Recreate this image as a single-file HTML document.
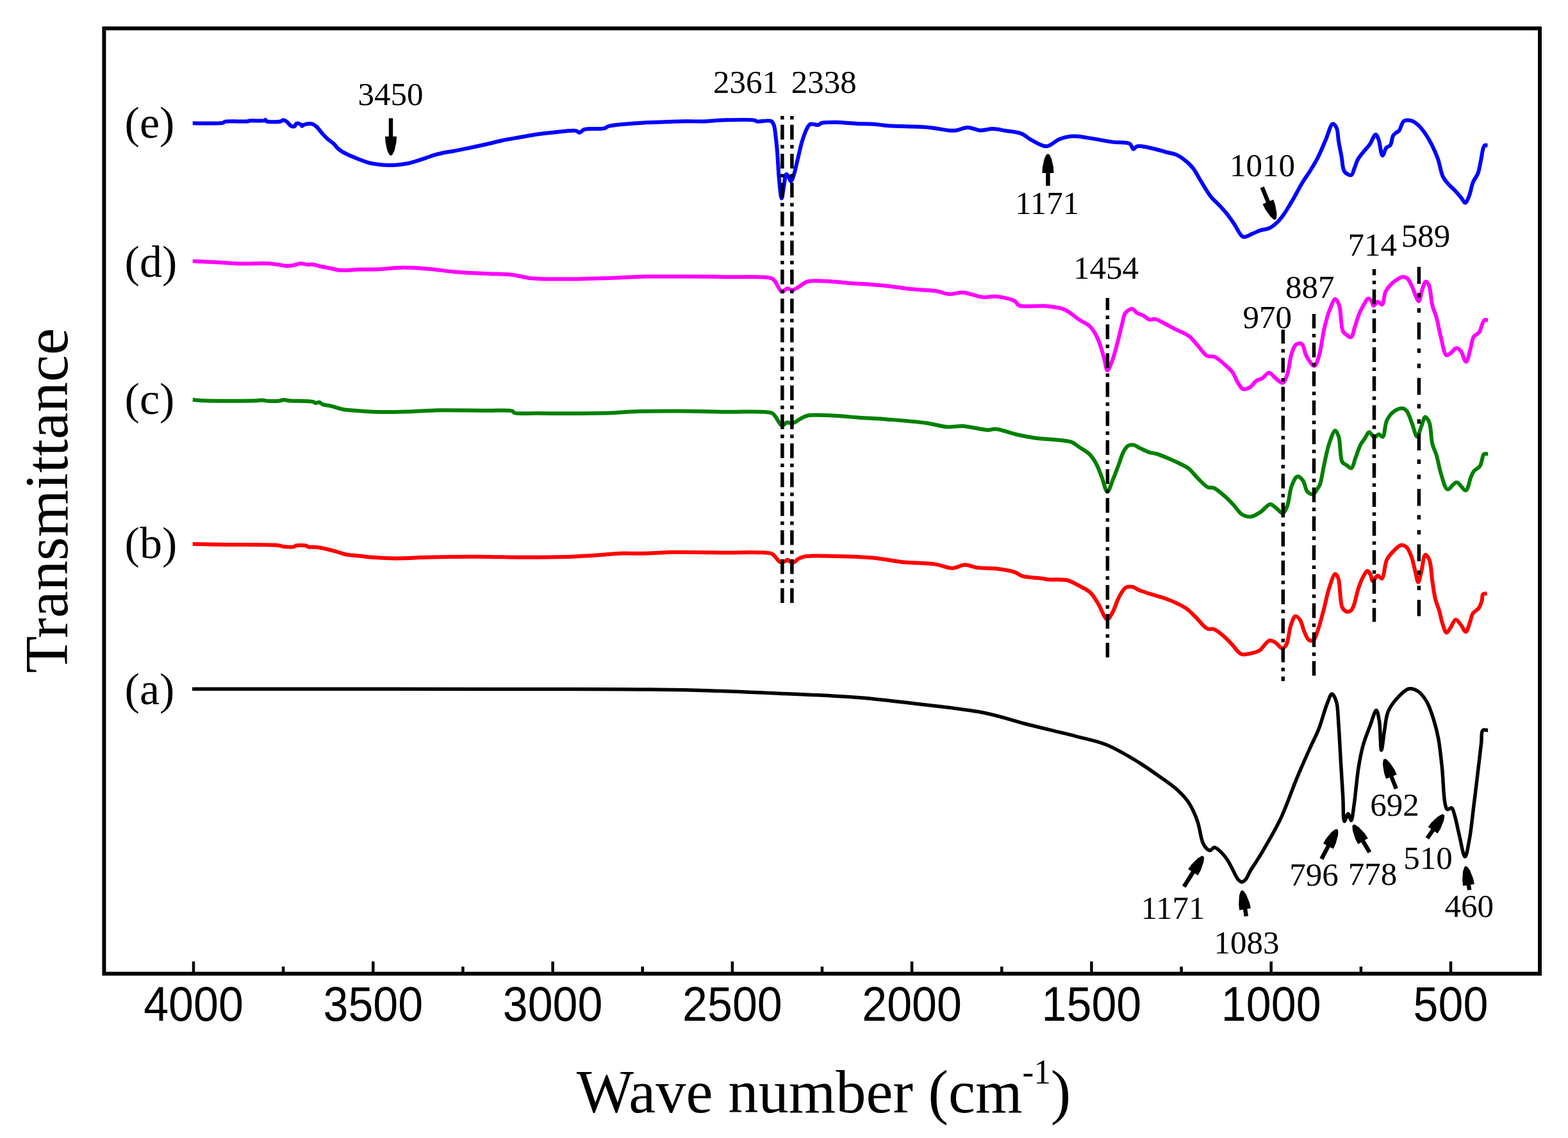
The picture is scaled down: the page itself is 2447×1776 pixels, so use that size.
<!DOCTYPE html>
<html><head><meta charset="utf-8"><title>FTIR spectra</title>
<style>
html,body{margin:0;padding:0;background:#fff;}
body{width:2447px;height:1776px;overflow:hidden;}
svg{display:block;}
</style></head>
<body>
<svg width="2447" height="1776" viewBox="0 0 2447 1776">
<rect x="0" y="0" width="2447" height="1776" fill="#fff"/>
<g fill="none" stroke-linejoin="round" stroke-linecap="butt" stroke-width="6">
<path stroke="#0000ff" d="M300.7,192.3 C308.6,192.2 342.1,193.4 348.2,191.6 C349.8,191.1 349.4,190.3 351.0,189.9 C356.2,188.4 382.5,190.2 387.0,189.3 C388.1,189.1 387.9,188.7 389.0,188.5 C392.6,187.8 410.1,189.2 413.0,188.0 C413.8,187.7 413.8,186.8 414.2,186.8 C414.8,186.8 414.8,188.6 416.0,189.2 C419.2,190.8 434.3,190.6 438.4,189.4 C440.1,188.9 440.5,187.3 441.8,187.2 C443.3,187.1 445.3,188.4 447.1,189.6 C449.6,191.3 452.4,196.0 454.9,197.0 C456.6,197.7 458.4,197.7 459.7,197.0 C461.0,196.3 461.2,193.4 462.6,192.8 C464.3,192.1 467.9,193.3 469.4,194.2 C470.4,194.8 470.6,196.7 471.4,196.8 C472.2,196.9 472.9,195.2 474.3,194.7 C476.9,193.7 483.4,192.5 486.9,193.3 C489.6,193.9 491.7,195.7 493.7,197.4 C495.7,199.1 497.3,201.5 499.0,203.5 C500.8,205.6 502.2,207.6 504.2,209.7 C506.5,212.2 509.2,215.1 512.0,217.5 C514.7,219.9 518.2,221.8 520.7,224.2 C523.0,226.4 524.4,228.9 526.6,231.0 C528.9,233.2 531.3,235.0 534.3,236.9 C538.1,239.3 543.3,241.5 547.9,243.6 C552.6,245.7 557.5,247.7 562.4,249.5 C567.2,251.3 572.1,253.1 577.0,254.3 C581.8,255.5 586.6,256.1 591.5,256.7 C596.3,257.3 601.2,257.6 606.1,257.7 C610.9,257.8 615.8,257.6 620.6,257.2 C625.5,256.8 630.4,256.3 635.2,255.3 C640.1,254.3 644.9,252.8 649.7,251.4 C654.6,249.9 659.4,248.2 664.3,246.6 C669.1,245.0 674.1,243.1 678.8,241.7 C683.3,240.4 687.5,239.4 692.0,238.5 C696.7,237.5 701.0,237.0 706.5,236.0 C714.0,234.6 724.1,232.5 732.9,230.7 C741.7,228.9 750.6,227.0 759.4,225.0 C768.2,223.0 777.0,220.6 785.8,218.8 C794.6,217.0 803.5,215.6 812.3,214.0 C821.1,212.5 829.9,210.8 838.7,209.5 C847.5,208.3 855.8,207.4 865.2,206.5 C875.7,205.5 892.5,202.8 898.9,204.1 C901.6,204.7 902.4,207.0 904.4,206.9 C906.8,206.8 908.5,203.1 912.1,201.9 C918.8,199.7 936.6,202.0 943.0,200.3 C946.1,199.5 946.4,198.0 949.6,197.0 C957.2,194.8 976.4,193.6 989.3,192.6 C1001.4,191.6 1012.2,191.3 1024.6,190.8 C1038.5,190.2 1055.2,189.5 1068.6,189.3 C1079.9,189.1 1089.8,189.7 1100.0,189.4 C1109.6,189.1 1117.2,187.8 1127.9,187.5 C1142.2,187.1 1171.9,186.0 1178.2,187.8 C1179.8,188.3 1179.5,189.1 1181.0,189.5 C1184.8,190.5 1199.1,186.8 1203.4,189.0 C1205.8,190.2 1206.5,192.3 1207.6,195.0 C1209.3,199.1 1209.6,205.5 1210.4,211.8 C1211.5,219.9 1212.3,229.4 1213.2,239.7 C1214.2,252.2 1214.7,269.1 1216.0,281.6 C1217.0,291.9 1218.5,309.5 1219.8,309.5 C1220.8,309.5 1221.9,298.7 1223.0,292.8 C1224.3,286.2 1225.1,272.4 1227.1,271.8 C1228.0,271.5 1229.1,273.2 1230.0,274.5 C1231.4,276.5 1232.7,283.0 1234.1,283.0 C1235.5,283.0 1236.9,278.3 1238.3,274.6 C1240.7,268.1 1243.0,256.0 1245.3,246.7 C1247.6,237.4 1249.5,227.3 1252.3,218.7 C1254.8,211.1 1258.0,202.0 1260.7,197.8 C1262.1,195.7 1262.8,194.3 1264.8,193.6 C1267.7,192.6 1274.4,195.7 1277.4,195.0 C1279.3,194.5 1279.5,192.9 1281.6,192.2 C1285.8,190.8 1294.7,190.8 1302.6,190.8 C1312.8,190.8 1326.6,192.4 1337.5,192.9 C1347.0,193.3 1355.8,193.1 1364.3,193.7 C1372.0,194.3 1377.0,195.6 1386.3,196.3 C1402.0,197.5 1432.8,197.2 1450.2,198.9 C1462.4,200.1 1473.4,203.0 1481.1,203.6 C1485.7,203.9 1488.0,204.1 1492.1,203.6 C1497.3,202.9 1503.7,199.0 1509.8,198.9 C1516.2,198.8 1523.0,203.0 1529.6,203.4 C1536.2,203.8 1542.8,201.0 1549.4,201.1 C1556.0,201.2 1562.4,202.9 1569.3,204.0 C1577.0,205.3 1586.3,205.6 1593.5,208.4 C1600.1,211.0 1604.8,216.2 1611.2,219.4 C1618.0,222.9 1626.2,228.7 1633.2,228.3 C1640.1,227.9 1646.5,219.8 1653.1,217.2 C1659.0,214.9 1665.5,213.4 1670.7,212.8 C1674.8,212.3 1677.4,212.5 1681.7,212.8 C1687.8,213.3 1695.7,214.8 1703.8,216.1 C1713.7,217.7 1726.4,220.2 1736.8,221.6 C1746.1,222.9 1758.1,221.3 1763.3,224.5 C1766.5,226.4 1766.8,232.4 1768.8,232.7 C1770.5,233.0 1771.5,229.0 1774.3,228.3 C1780.0,226.8 1794.7,230.9 1803.0,232.7 C1809.5,234.1 1814.5,236.0 1820.0,237.5 C1825.2,238.9 1830.3,239.2 1835.2,241.3 C1840.5,243.6 1845.8,247.4 1850.4,251.1 C1854.9,254.7 1859.0,258.8 1862.5,263.3 C1866.1,267.9 1868.6,273.4 1871.6,278.5 C1874.7,283.6 1877.7,288.8 1880.8,293.7 C1883.8,298.4 1886.4,303.0 1889.9,307.3 C1893.5,311.7 1898.0,315.3 1902.0,319.5 C1906.1,323.9 1910.3,328.3 1914.2,333.2 C1918.4,338.4 1922.2,344.1 1926.3,349.9 C1930.8,356.2 1934.7,367.8 1940.0,369.6 C1944.1,371.0 1949.3,366.8 1953.7,365.1 C1957.9,363.5 1961.5,361.3 1965.8,359.8 C1970.5,358.2 1976.5,358.1 1981.0,356.0 C1985.1,354.1 1988.3,351.5 1991.7,348.4 C1995.5,345.0 1998.7,341.1 2002.3,336.2 C2007.2,329.6 2012.5,320.3 2017.5,311.9 C2022.7,303.1 2027.8,292.7 2032.7,284.6 C2036.8,277.8 2040.9,272.7 2044.8,266.3 C2049.0,259.6 2053.1,252.7 2057.0,245.1 C2061.3,236.7 2065.2,226.6 2069.1,217.7 C2072.8,209.4 2076.3,194.0 2079.8,193.4 C2081.8,193.0 2084.3,196.5 2085.8,199.5 C2088.2,204.2 2087.8,213.5 2089.1,220.8 C2090.4,228.6 2092.2,237.1 2093.7,245.1 C2095.2,252.8 2094.7,263.3 2098.2,267.9 C2100.7,271.2 2106.4,274.1 2108.9,273.2 C2111.3,272.3 2111.8,267.0 2113.4,263.3 C2115.3,258.8 2116.9,252.7 2119.5,248.1 C2122.0,243.7 2125.5,239.9 2128.6,236.0 C2131.6,232.3 2134.8,229.3 2137.7,225.3 C2140.9,220.8 2144.3,210.1 2146.8,210.1 C2148.6,210.1 2150.0,214.3 2151.4,217.7 C2153.8,223.5 2155.0,242.5 2157.5,242.8 C2159.3,243.0 2161.0,233.3 2163.5,230.6 C2165.3,228.6 2168.0,228.9 2169.6,226.8 C2172.0,223.6 2172.2,215.0 2174.2,211.6 C2175.5,209.4 2177.1,208.4 2178.7,207.1 C2180.2,205.9 2181.8,205.8 2183.3,204.1 C2185.9,201.1 2187.3,191.3 2190.9,188.9 C2193.8,187.0 2198.1,187.3 2201.5,188.1 C2205.2,188.9 2208.8,191.3 2212.2,194.2 C2216.4,197.7 2220.6,203.3 2224.3,208.6 C2228.2,214.2 2231.7,220.4 2234.9,226.8 C2238.3,233.5 2241.3,240.5 2244.0,248.1 C2247.0,256.6 2248.5,268.7 2251.7,275.5 C2253.9,280.1 2256.2,282.6 2259.2,286.1 C2262.6,290.2 2267.7,294.2 2271.4,298.2 C2274.7,301.8 2277.8,305.6 2280.5,308.9 C2282.8,311.6 2284.7,316.7 2286.6,316.5 C2288.8,316.3 2290.9,310.1 2292.7,305.8 C2295.1,300.0 2296.2,290.8 2298.7,284.6 C2300.8,279.4 2304.3,276.0 2306.3,270.9 C2308.6,265.0 2309.5,257.7 2310.9,251.1 C2312.3,244.5 2313.3,235.6 2314.7,231.4 C2315.4,229.3 2315.8,227.5 2317.0,226.8 C2318.1,226.1 2320.8,226.8 2321.5,226.8"/>
<path stroke="#ff00ff" d="M300.7,407.5 C306.8,407.8 324.9,408.7 337.6,409.3 C351.1,410.0 365.9,411.2 379.3,411.5 C391.7,411.7 405.1,410.6 415.0,411.0 C422.0,411.3 427.2,412.1 432.9,412.8 C438.2,413.4 443.6,414.9 448.3,415.0 C452.2,415.1 455.6,414.4 459.0,413.8 C462.3,413.2 465.2,411.5 468.6,411.3 C472.3,411.1 477.0,412.9 480.5,413.0 C483.2,413.1 485.0,412.2 487.6,412.4 C490.8,412.7 494.3,414.3 498.3,415.2 C503.5,416.4 510.8,417.7 516.2,418.8 C520.6,419.7 524.1,421.0 528.1,421.5 C532.0,422.0 535.5,421.9 540.0,421.8 C545.8,421.7 552.7,420.9 560.0,420.6 C569.0,420.3 579.3,420.7 590.0,420.3 C602.3,419.8 616.5,417.7 629.7,417.6 C642.9,417.5 656.2,418.6 669.4,419.7 C682.6,420.8 695.0,423.0 709.1,424.2 C725.0,425.6 744.1,426.3 760.0,427.1 C774.1,427.8 787.5,427.5 799.7,428.9 C810.2,430.1 817.7,433.0 828.8,434.2 C843.2,435.7 861.1,435.5 879.0,435.6 C899.5,435.7 923.4,434.9 945.2,434.2 C966.6,433.5 987.1,432.0 1008.7,431.6 C1031.2,431.1 1055.8,431.5 1077.5,431.6 C1097.0,431.7 1113.3,431.8 1133.0,432.2 C1155.3,432.7 1194.4,430.4 1204.4,434.5 C1207.6,435.8 1207.8,437.2 1209.7,439.5 C1212.8,443.2 1216.6,454.7 1220.3,455.4 C1222.9,455.9 1225.6,450.5 1228.3,450.1 C1230.9,449.8 1233.4,453.0 1236.2,452.8 C1239.5,452.6 1243.1,449.5 1246.8,447.5 C1251.0,445.2 1254.5,441.1 1260.0,439.5 C1267.6,437.3 1278.7,438.4 1289.1,438.7 C1301.3,439.1 1319.6,441.6 1328.8,442.2 C1333.7,442.5 1335.1,442.4 1340.0,442.7 C1349.6,443.3 1368.5,444.5 1382.3,445.9 C1395.5,447.3 1407.9,449.7 1421.1,451.1 C1434.9,452.6 1452.5,452.9 1463.5,454.7 C1470.7,455.9 1474.9,458.7 1481.1,459.1 C1487.8,459.5 1494.6,456.0 1502.3,456.4 C1511.8,456.9 1524.7,463.0 1534.0,463.8 C1541.2,464.4 1546.3,462.0 1553.4,462.6 C1562.4,463.4 1577.2,466.2 1583.4,469.7 C1586.9,471.7 1586.6,475.1 1590.4,476.7 C1598.0,480.0 1618.5,476.4 1631.0,477.6 C1641.8,478.7 1652.0,479.2 1661.0,482.9 C1669.6,486.4 1676.9,494.2 1683.9,498.8 C1689.7,502.5 1695.7,504.7 1700.0,508.5 C1703.8,511.8 1706.2,515.6 1708.8,519.9 C1711.6,524.6 1713.7,529.9 1715.9,535.8 C1718.5,542.7 1720.8,551.4 1722.9,558.7 C1724.8,565.4 1726.0,577.9 1728.2,578.1 C1730.2,578.3 1733.1,569.7 1735.3,564.0 C1738.5,556.0 1741.4,543.9 1744.1,534.0 C1746.7,524.5 1748.8,514.1 1751.1,505.8 C1752.9,499.2 1753.2,492.2 1756.4,488.2 C1759.0,484.9 1763.9,481.7 1767.0,482.0 C1769.7,482.3 1771.3,486.5 1774.1,488.2 C1777.1,490.1 1781.4,490.8 1784.7,492.6 C1787.9,494.3 1790.4,498.0 1793.5,498.8 C1796.3,499.5 1799.2,497.4 1802.3,497.9 C1806.1,498.5 1810.2,501.0 1814.6,503.2 C1820.0,505.8 1826.0,509.6 1832.3,512.9 C1839.4,516.6 1848.8,519.6 1855.2,524.3 C1860.9,528.5 1864.6,534.2 1869.3,539.3 C1874.0,544.5 1878.3,552.5 1883.4,555.2 C1887.3,557.3 1891.7,555.2 1895.8,557.0 C1901.0,559.2 1906.8,565.0 1911.6,569.3 C1916.1,573.3 1920.7,577.1 1924.0,581.7 C1927.1,586.0 1928.3,591.5 1931.0,595.8 C1933.6,599.9 1936.4,606.0 1939.9,607.2 C1943.0,608.3 1947.1,606.4 1950.4,604.6 C1954.3,602.4 1957.4,596.4 1961.0,594.0 C1963.9,592.1 1966.9,592.2 1969.8,590.5 C1973.3,588.4 1976.9,581.7 1980.4,581.7 C1983.9,581.7 1987.4,587.8 1991.0,590.5 C1994.5,593.1 1998.7,598.2 2001.6,597.5 C2004.7,596.8 2006.6,590.5 2008.6,585.2 C2011.7,576.9 2012.7,560.3 2015.7,551.7 C2017.8,545.8 2019.5,539.8 2022.8,537.6 C2025.2,535.9 2029.2,535.2 2031.6,536.7 C2035.2,538.9 2035.4,549.5 2038.6,555.2 C2041.8,561.0 2047.7,571.4 2051.0,571.1 C2054.0,570.8 2055.9,563.2 2058.0,557.0 C2061.6,546.4 2063.6,525.3 2066.8,512.0 C2069.4,501.2 2072.0,491.1 2075.3,482.9 C2077.9,476.6 2081.1,466.8 2083.8,466.7 C2085.9,466.6 2088.1,471.6 2089.8,476.1 C2093.0,484.7 2092.3,510.0 2095.7,516.9 C2097.1,519.8 2098.8,520.5 2100.8,522.0 C2103.0,523.7 2106.4,527.1 2108.5,526.3 C2111.4,525.2 2112.4,515.8 2114.4,510.1 C2116.6,503.7 2118.7,495.7 2121.2,489.7 C2123.3,484.6 2125.6,480.2 2128.0,476.1 C2130.2,472.4 2132.5,466.4 2134.9,465.9 C2136.6,465.6 2138.6,467.7 2140.0,469.3 C2141.6,471.2 2141.8,476.6 2143.4,477.0 C2145.1,477.4 2147.9,471.2 2150.2,471.0 C2152.4,470.8 2155.2,476.0 2157.0,475.3 C2159.9,474.2 2159.5,461.2 2162.1,455.7 C2164.3,451.0 2167.5,447.0 2170.6,443.8 C2173.3,441.0 2176.0,439.0 2179.1,437.0 C2182.2,435.0 2186.2,432.1 2189.3,431.9 C2191.8,431.8 2194.1,432.7 2196.1,434.4 C2198.8,436.6 2200.8,441.3 2202.9,445.5 C2205.4,450.5 2207.5,458.0 2209.7,462.5 C2211.2,465.6 2212.6,470.3 2214.0,470.1 C2216.1,469.9 2217.8,456.1 2219.9,450.6 C2221.5,446.3 2223.1,439.8 2225.0,439.5 C2226.6,439.3 2228.7,442.4 2230.1,445.5 C2232.9,451.6 2232.9,467.0 2235.2,476.1 C2237.1,483.7 2239.9,489.0 2242.0,496.5 C2244.5,505.6 2246.2,517.2 2248.8,527.1 C2251.3,536.5 2253.4,552.8 2257.3,554.4 C2259.3,555.2 2261.8,552.6 2264.1,551.0 C2266.9,549.1 2269.9,543.5 2272.7,543.3 C2275.0,543.1 2277.4,545.3 2279.5,547.6 C2282.7,551.2 2285.5,564.8 2288.0,564.6 C2290.7,564.4 2292.8,550.9 2294.8,544.2 C2296.7,537.8 2297.0,529.8 2299.9,525.4 C2302.1,522.1 2306.2,521.6 2308.4,518.6 C2310.9,515.1 2311.8,508.5 2313.5,505.0 C2314.6,502.6 2315.3,499.9 2316.9,499.1 C2318.3,498.4 2321.2,499.8 2322.0,499.9"/>
<path stroke="#008000" d="M300.7,623.8 C303.7,624.0 310.5,624.9 318.6,625.2 C336.0,625.9 387.5,625.7 400.7,625.2 C404.9,625.0 406.1,624.5 409.0,624.6 C412.1,624.7 414.9,625.6 418.6,625.8 C423.6,626.1 432.1,626.1 436.4,625.5 C439.0,625.2 440.2,624.1 442.4,624.0 C444.9,623.9 446.9,624.8 450.7,625.2 C458.8,626.0 482.9,625.3 488.8,627.0 C490.7,627.6 491.0,628.8 492.4,629.0 C494.1,629.3 496.5,627.4 498.3,627.8 C500.1,628.1 501.0,630.1 503.1,631.0 C506.3,632.3 511.5,632.5 516.2,633.6 C521.8,634.9 527.6,637.4 534.5,638.7 C543.0,640.3 553.1,640.7 563.6,641.4 C575.8,642.2 590.1,642.9 603.3,643.0 C616.5,643.1 629.8,642.7 643.0,642.2 C656.2,641.8 667.2,640.6 682.6,640.3 C704.1,639.9 738.5,640.5 760.0,640.8 C775.4,641.0 794.4,639.4 799.7,641.6 C801.3,642.3 800.7,643.5 802.3,644.2 C807.1,646.3 821.7,644.9 836.7,645.0 C864.9,645.2 932.6,645.2 958.4,644.2 C970.5,643.8 973.9,642.8 984.9,642.4 C1002.9,641.7 1031.9,641.6 1056.3,641.6 C1082.1,641.7 1110.2,642.3 1135.7,642.8 C1159.4,643.3 1194.7,640.5 1204.4,644.5 C1207.6,645.8 1207.7,647.3 1209.7,649.5 C1212.8,653.0 1216.7,663.4 1220.3,664.1 C1222.9,664.6 1225.5,659.8 1228.3,659.3 C1230.9,658.9 1233.3,661.4 1236.2,660.9 C1240.1,660.3 1245.2,655.6 1249.4,653.5 C1253.1,651.6 1255.1,649.7 1260.0,648.7 C1269.3,646.7 1288.6,648.2 1302.3,648.7 C1315.2,649.2 1326.9,650.8 1340.0,651.7 C1354.1,652.7 1368.2,653.2 1384.1,654.4 C1403.0,655.9 1428.7,657.8 1445.8,660.2 C1458.2,661.9 1467.6,665.5 1477.6,666.2 C1486.3,666.8 1493.1,664.5 1502.3,665.0 C1514.2,665.6 1533.7,671.1 1542.8,671.1 C1547.5,671.1 1548.9,669.2 1553.4,669.4 C1561.5,669.8 1576.2,675.8 1586.9,678.2 C1596.7,680.4 1604.0,681.9 1615.1,683.5 C1630.7,685.8 1659.9,685.6 1671.6,689.7 C1677.5,691.8 1679.5,694.7 1683.9,697.6 C1688.9,700.9 1695.5,704.1 1700.0,708.5 C1704.4,712.8 1707.5,717.9 1710.6,723.5 C1714.1,729.8 1716.5,737.4 1719.4,744.6 C1722.4,752.1 1725.2,767.4 1728.2,767.5 C1731.0,767.6 1734.1,754.8 1737.0,748.0 C1740.1,740.7 1743.1,732.3 1745.9,725.0 C1748.4,718.4 1750.2,711.2 1752.9,706.0 C1755.0,702.0 1757.1,698.0 1760.0,696.1 C1762.5,694.5 1765.8,694.0 1768.8,694.4 C1772.2,694.9 1775.6,697.8 1779.4,699.6 C1783.7,701.6 1788.9,704.3 1793.5,705.8 C1797.7,707.2 1801.4,707.2 1805.8,708.5 C1811.2,710.2 1817.6,713.0 1823.5,715.5 C1829.4,718.0 1835.6,720.7 1841.1,723.5 C1846.1,726.0 1850.8,727.9 1855.2,731.4 C1860.2,735.3 1864.3,741.6 1869.3,746.4 C1874.3,751.3 1880.4,758.4 1885.2,760.5 C1888.3,761.9 1890.8,760.1 1894.0,761.4 C1899.1,763.4 1906.2,769.9 1911.6,774.6 C1916.7,779.1 1921.2,783.9 1925.7,788.7 C1930.0,793.3 1933.3,799.9 1938.1,802.8 C1942.3,805.4 1947.5,806.8 1952.2,806.3 C1957.4,805.7 1963.1,801.6 1968.1,798.4 C1973.1,795.2 1977.8,787.1 1982.2,786.9 C1985.9,786.7 1989.5,791.6 1992.8,794.0 C1995.9,796.3 1999.0,801.5 2001.6,801.1 C2004.3,800.7 2006.6,795.2 2008.6,790.5 C2011.8,782.9 2012.4,767.1 2015.7,758.7 C2018.1,752.5 2021.1,744.4 2024.5,743.7 C2027.2,743.1 2030.9,746.8 2033.3,749.9 C2036.5,754.0 2037.0,764.1 2040.4,767.5 C2042.8,769.9 2046.6,771.8 2049.2,771.1 C2052.0,770.4 2054.4,765.1 2056.3,762.3 C2057.8,760.1 2058.8,758.9 2060.0,755.9 C2062.4,749.7 2064.0,736.1 2066.3,725.8 C2068.7,715.0 2070.9,702.3 2074.2,692.7 C2076.9,684.9 2080.8,672.2 2083.7,672.1 C2085.7,672.0 2087.7,677.1 2089.2,681.6 C2092.1,690.1 2090.8,714.6 2094.7,721.1 C2096.4,724.0 2098.8,724.3 2101.1,725.8 C2103.6,727.4 2106.8,731.3 2109.0,730.6 C2111.9,729.6 2113.1,720.4 2115.3,714.8 C2117.8,708.4 2120.4,699.6 2123.2,694.2 C2125.2,690.3 2127.3,688.0 2129.5,684.8 C2131.8,681.4 2134.3,674.7 2136.6,674.5 C2138.4,674.3 2140.5,678.6 2142.1,680.0 C2143.3,681.0 2144.1,682.4 2145.3,682.4 C2147.0,682.4 2149.5,677.8 2151.6,677.7 C2153.7,677.6 2156.1,682.3 2157.9,681.6 C2161.2,680.3 2160.8,663.2 2164.2,656.3 C2167.0,650.5 2170.8,645.3 2175.3,642.1 C2179.4,639.2 2185.8,636.8 2189.5,637.4 C2192.2,637.8 2193.9,639.6 2195.8,642.1 C2198.9,646.1 2201.1,654.6 2203.7,661.1 C2206.4,667.8 2209.1,681.6 2211.6,681.6 C2213.8,681.6 2215.9,671.0 2218.0,665.8 C2220.1,660.7 2221.9,651.1 2224.3,650.8 C2226.2,650.6 2228.9,655.4 2230.6,659.5 C2233.5,666.8 2233.0,683.5 2235.3,692.7 C2237.0,699.5 2239.6,703.3 2241.6,710.0 C2244.3,718.9 2246.3,732.1 2249.5,741.6 C2252.2,749.7 2254.6,762.6 2259.0,763.7 C2262.8,764.7 2268.5,752.6 2273.2,752.7 C2278.0,752.9 2283.8,766.2 2287.5,765.3 C2291.4,764.3 2293.0,750.3 2295.4,744.8 C2297.1,741.0 2297.9,738.1 2300.1,735.3 C2302.5,732.3 2307.3,730.9 2309.6,727.4 C2312.3,723.3 2313.0,714.8 2314.3,711.6 C2314.9,710.1 2314.9,709.1 2315.9,708.5 C2317.2,707.7 2321.1,708.5 2322.2,708.5"/>
<path stroke="#ff0000" d="M300.7,849.0 C309.6,849.1 334.7,849.6 354.3,849.9 C378.0,850.3 418.3,849.6 432.9,851.1 C438.6,851.7 440.6,852.9 444.8,853.3 C449.3,853.7 456.5,854.2 459.0,853.3 C460.1,852.9 459.9,852.1 461.0,851.7 C463.8,850.7 475.1,850.8 478.1,851.7 C479.3,852.1 479.3,852.9 480.5,853.3 C483.2,854.2 490.0,853.4 494.8,854.0 C499.9,854.6 504.9,855.8 510.2,857.0 C516.0,858.3 522.5,860.3 528.1,861.8 C533.1,863.2 537.3,864.9 542.4,865.8 C547.9,866.8 554.2,866.8 560.0,867.4 C565.7,868.0 570.0,868.9 576.8,869.5 C587.2,870.4 602.0,871.3 616.5,871.4 C634.0,871.5 653.4,869.9 674.7,869.5 C700.4,869.0 735.7,868.8 760.0,868.9 C778.2,869.0 789.7,869.6 807.6,869.7 C830.7,869.8 863.9,869.6 887.0,868.9 C904.9,868.3 920.3,867.3 934.6,866.3 C946.2,865.5 955.1,864.2 966.3,863.7 C978.8,863.2 992.4,864.0 1006.0,863.7 C1020.5,863.4 1034.0,862.1 1051.0,861.8 C1073.2,861.4 1102.1,862.1 1127.7,862.5 C1153.3,862.9 1194.0,860.1 1204.4,864.2 C1207.6,865.4 1207.8,867.1 1209.7,868.9 C1212.2,871.3 1215.0,876.6 1218.0,877.5 C1220.5,878.2 1224.0,876.4 1226.0,875.5 C1227.3,874.9 1227.9,873.5 1229.0,873.5 C1230.2,873.5 1231.4,875.8 1233.0,876.4 C1234.8,877.1 1237.4,877.9 1239.4,877.3 C1241.5,876.7 1242.9,873.9 1245.2,872.5 C1247.9,870.9 1251.4,869.4 1255.0,868.6 C1258.9,867.7 1262.2,867.8 1267.9,867.6 C1278.7,867.3 1299.1,867.7 1315.2,868.2 C1332.0,868.7 1350.4,869.3 1366.5,870.9 C1380.8,872.4 1392.6,875.4 1407.0,877.0 C1423.4,878.8 1445.4,878.4 1459.9,880.6 C1470.3,882.1 1478.3,886.9 1486.4,886.7 C1493.4,886.6 1499.3,881.5 1505.8,881.4 C1512.3,881.3 1518.0,884.9 1525.2,885.9 C1534.1,887.2 1545.4,886.4 1555.2,887.6 C1564.8,888.8 1576.1,890.4 1583.4,892.9 C1588.5,894.6 1590.5,897.5 1595.7,899.1 C1603.4,901.4 1618.3,901.5 1625.7,902.6 C1630.1,903.2 1631.9,904.0 1636.3,904.4 C1643.4,905.1 1656.1,903.4 1664.5,905.3 C1671.8,907.0 1677.7,910.8 1683.9,914.1 C1690.0,917.3 1696.6,920.1 1701.6,924.7 C1706.7,929.4 1709.8,935.9 1713.9,942.3 C1718.6,949.6 1723.7,966.2 1727.9,966.5 C1730.8,966.7 1733.3,960.7 1735.9,956.4 C1739.6,950.2 1742.5,938.7 1746.4,931.7 C1749.6,925.9 1752.8,919.2 1757.0,916.8 C1760.2,915.0 1764.2,915.2 1767.6,915.9 C1771.2,916.6 1774.0,919.5 1778.2,921.2 C1784.0,923.6 1792.6,926.1 1799.3,928.2 C1805.4,930.1 1811.2,931.5 1817.0,933.5 C1822.9,935.6 1828.8,937.9 1834.6,940.6 C1840.6,943.4 1847.0,946.4 1852.3,950.3 C1857.5,954.1 1861.5,958.7 1866.4,963.5 C1872.0,968.9 1878.4,978.5 1884.0,981.1 C1887.7,982.8 1890.9,980.6 1894.6,982.0 C1899.6,983.9 1905.7,989.4 1910.5,993.5 C1915.0,997.4 1918.6,1001.5 1922.8,1005.8 C1927.4,1010.5 1931.7,1018.7 1936.9,1020.8 C1941.2,1022.5 1946.4,1020.8 1951.0,1019.9 C1955.8,1019.0 1960.6,1018.2 1965.1,1015.5 C1970.7,1012.1 1976.1,1000.8 1981.0,999.6 C1984.1,998.8 1986.8,1000.7 1989.8,1002.3 C1993.6,1004.4 1998.1,1012.1 2001.3,1012.0 C2003.7,1011.9 2005.7,1009.0 2007.5,1005.8 C2010.8,999.8 2011.6,983.8 2014.5,975.8 C2016.6,970.1 2018.8,962.4 2021.6,961.7 C2023.7,961.2 2026.6,964.3 2028.6,967.0 C2031.7,971.2 2033.1,980.7 2035.7,986.4 C2037.9,991.1 2039.8,997.1 2042.7,998.8 C2044.8,1000.0 2047.8,1000.1 2049.8,998.8 C2053.0,996.7 2054.5,989.3 2056.8,982.9 C2060.0,973.9 2063.4,960.5 2066.3,949.5 C2069.1,938.8 2071.0,927.4 2074.2,917.9 C2076.9,909.8 2080.8,896.1 2083.7,895.8 C2085.4,895.6 2087.0,898.8 2088.4,902.1 C2091.7,910.2 2090.7,939.9 2094.7,947.9 C2096.5,951.5 2098.8,953.5 2101.1,954.3 C2103.1,955.0 2105.6,954.6 2107.4,953.5 C2109.4,952.2 2110.6,949.7 2112.1,946.4 C2114.9,940.2 2117.3,925.9 2120.0,917.9 C2122.1,911.8 2123.8,906.8 2126.3,902.1 C2128.6,897.9 2131.9,891.1 2134.2,891.1 C2136.0,891.1 2137.7,895.0 2139.0,897.4 C2140.4,900.1 2140.4,906.5 2142.1,906.9 C2143.9,907.3 2147.4,898.5 2150.0,898.2 C2152.1,898.0 2154.5,903.6 2156.4,902.9 C2160.0,901.6 2160.6,881.2 2164.2,873.7 C2166.8,868.3 2170.0,864.9 2173.7,861.1 C2177.4,857.2 2182.5,851.6 2186.4,850.8 C2189.2,850.3 2192.0,851.3 2194.3,853.2 C2197.6,855.8 2200.0,861.9 2202.2,867.4 C2204.9,874.2 2206.5,883.8 2208.5,891.1 C2210.2,897.3 2211.6,908.5 2213.2,908.5 C2214.8,908.5 2216.4,898.7 2218.0,892.7 C2220.1,884.9 2221.3,866.5 2224.3,865.8 C2226.1,865.4 2228.9,869.8 2230.6,873.7 C2233.6,880.7 2233.7,896.3 2235.3,906.9 C2236.8,916.7 2238.0,926.9 2240.1,935.3 C2241.9,942.3 2244.6,947.9 2246.4,954.3 C2248.2,960.6 2249.1,967.4 2251.1,973.2 C2252.9,978.4 2255.0,987.1 2257.4,987.4 C2259.3,987.7 2261.6,982.5 2263.8,979.5 C2266.4,975.9 2268.8,967.2 2271.7,966.9 C2274.2,966.6 2277.1,971.8 2279.6,974.8 C2282.4,978.1 2285.2,986.1 2287.5,985.9 C2290.0,985.6 2292.0,976.4 2293.8,971.6 C2295.6,966.9 2296.0,961.3 2298.5,957.4 C2300.8,953.8 2305.6,952.1 2308.0,948.7 C2310.4,945.3 2311.6,940.7 2312.7,936.9 C2313.6,933.6 2312.6,929.1 2314.3,927.4 C2315.7,926.0 2319.5,926.3 2320.6,926.1"/>
<path stroke="#000000" stroke-width="5.5" d="M300.0,1075.3 C400.0,1075.3 784.0,1075.2 900.0,1075.5 C947.3,1075.6 967.2,1075.6 1000.0,1075.9 C1031.8,1076.2 1061.7,1076.5 1094.0,1077.4 C1128.2,1078.3 1162.0,1079.7 1199.8,1081.4 C1243.5,1083.4 1299.4,1085.4 1340.9,1088.7 C1373.8,1091.3 1398.4,1094.5 1429.1,1098.2 C1462.8,1102.3 1503.4,1106.0 1534.9,1112.3 C1561.0,1117.5 1581.6,1124.9 1605.5,1131.0 C1630.0,1137.2 1658.2,1143.6 1680.0,1149.3 C1697.2,1153.8 1711.1,1156.1 1725.9,1162.0 C1740.9,1168.0 1755.5,1176.8 1769.3,1185.0 C1782.7,1193.0 1795.7,1202.0 1807.6,1210.5 C1818.5,1218.2 1829.7,1225.6 1838.2,1233.5 C1845.3,1240.1 1851.0,1246.2 1856.0,1253.9 C1861.3,1262.2 1865.4,1272.0 1868.8,1281.9 C1872.4,1292.2 1873.7,1307.1 1876.9,1314.6 C1878.8,1319.0 1880.7,1322.1 1883.0,1324.3 C1884.7,1325.9 1886.5,1327.4 1888.4,1327.3 C1890.6,1327.2 1892.5,1322.5 1895.1,1322.5 C1898.6,1322.5 1903.8,1328.2 1907.3,1331.6 C1910.6,1334.9 1913.1,1338.4 1915.8,1342.5 C1918.8,1347.2 1921.6,1353.3 1924.3,1358.3 C1926.8,1363.0 1928.9,1368.5 1931.6,1371.7 C1933.5,1374.0 1935.5,1376.4 1937.6,1376.5 C1939.6,1376.6 1941.8,1374.8 1943.7,1372.9 C1946.5,1370.0 1948.2,1364.2 1951.0,1359.5 C1954.2,1354.1 1958.3,1348.3 1961.9,1342.5 C1965.6,1336.6 1968.6,1331.9 1972.9,1324.3 C1979.8,1312.2 1990.8,1294.1 1998.9,1276.8 C2008.1,1257.4 2016.3,1232.4 2024.4,1213.1 C2031.2,1196.9 2037.9,1181.9 2043.9,1168.5 C2048.8,1157.5 2053.4,1149.4 2057.7,1138.5 C2062.7,1125.9 2067.4,1106.9 2071.6,1096.9 C2074.1,1091.0 2076.1,1083.2 2078.5,1083.1 C2080.7,1083.0 2083.7,1089.5 2085.4,1094.6 C2088.1,1102.8 2087.9,1116.3 2088.9,1129.3 C2090.2,1146.1 2091.2,1167.8 2092.3,1187.0 C2093.5,1206.2 2094.7,1227.6 2095.8,1244.7 C2096.6,1258.4 2095.8,1281.2 2098.1,1281.7 C2099.5,1282.0 2102.1,1270.1 2103.9,1270.1 C2105.6,1270.1 2107.2,1280.7 2108.5,1280.5 C2110.5,1280.3 2111.6,1266.1 2113.1,1256.3 C2115.4,1241.2 2117.3,1215.3 2120.0,1198.5 C2122.1,1185.4 2123.9,1175.1 2127.0,1163.9 C2130.1,1152.8 2134.8,1141.4 2138.5,1131.6 C2141.7,1123.2 2145.4,1108.4 2147.8,1108.5 C2149.8,1108.6 2151.2,1117.8 2152.4,1124.6 C2154.4,1136.0 2154.2,1170.7 2155.8,1170.8 C2157.1,1170.9 2158.8,1150.8 2160.5,1140.8 C2162.2,1130.8 2162.6,1119.6 2166.2,1110.8 C2169.4,1102.9 2174.6,1096.0 2180.1,1090.0 C2185.4,1084.1 2192.5,1076.3 2198.5,1075.0 C2203.2,1074.0 2208.1,1075.9 2212.4,1078.5 C2217.6,1081.7 2222.3,1088.0 2226.3,1094.6 C2231.2,1102.7 2234.7,1114.7 2237.8,1124.6 C2240.7,1134.0 2242.7,1141.9 2244.7,1152.4 C2247.2,1165.8 2248.8,1182.4 2250.5,1198.5 C2252.3,1216.1 2252.7,1243.4 2255.1,1254.0 C2256.1,1258.5 2256.6,1262.3 2258.6,1263.2 C2260.3,1264.0 2263.7,1260.1 2265.5,1260.9 C2267.9,1262.0 2268.6,1267.6 2270.1,1272.4 C2272.5,1280.0 2274.5,1292.1 2277.1,1302.4 C2279.9,1313.6 2283.5,1337.1 2286.3,1337.1 C2288.8,1337.1 2291.2,1320.2 2293.2,1309.4 C2296.0,1294.6 2297.8,1274.4 2300.1,1256.3 C2302.5,1237.4 2305.0,1215.9 2307.1,1198.5 C2308.8,1184.2 2310.4,1170.1 2311.7,1159.3 C2312.6,1151.6 2311.1,1142.3 2314.0,1139.7 C2315.8,1138.1 2320.7,1139.7 2322.1,1139.7"/>
</g>
<g stroke="#000" stroke-width="5.5" fill="none">
<line x1="1220.85" y1="181.0" x2="1220.85" y2="941.5" stroke-dasharray="5.5 8.2 23 8.5" stroke-dashoffset="45.15"/>
<line x1="1235.9" y1="181.0" x2="1235.9" y2="941.5" stroke-dasharray="5.5 8.2 23 8.5" stroke-dashoffset="45.15"/>
<line x1="1728.4" y1="465.0" x2="1728.4" y2="1026.1" stroke-dasharray="5.5 8.2 23 8.5" stroke-dashoffset="17.75"/>
<line x1="2002.3" y1="514.6" x2="2002.3" y2="1063.0" stroke-dasharray="5.5 8.2 23 8.5" stroke-dashoffset="15.05"/>
<line x1="2050.5" y1="490.0" x2="2050.5" y2="1054.5" stroke-dasharray="5.5 8.2 23 8.5" stroke-dashoffset="14.25"/>
<line x1="2144.5" y1="420.0" x2="2144.5" y2="970.5" stroke-dasharray="5.5 8.2 23 8.5" stroke-dashoffset="27.25"/>
<line x1="2214.4" y1="416.6" x2="2214.4" y2="961.5" stroke-dasharray="26.5 14.15 7 16.7 7 15.25" stroke-dashoffset="0.00"/>
</g>
<g fill="#000" stroke="none">
<polygon points="613.2,184.5 613.2,212.9 619.0,212.9 618.5,221.8 615.6,235.0 613.1,240.0 611.6,242.4 608.4,242.4 606.9,240.0 604.4,235.0 601.5,221.8 601.0,212.9 606.8,212.9 606.8,184.5"/>
<polygon points="1632.2,290.0 1632.2,269.9 1626.4,269.9 1626.9,261.0 1629.8,247.8 1632.2,242.8 1633.8,240.4 1637.0,240.4 1638.6,242.8 1641.0,247.8 1644.0,261.0 1644.4,269.9 1638.7,269.9 1638.7,290.0"/>
<polygon points="1972.6,291.0 1981.9,313.8 1987.3,311.6 1990.2,320.0 1992.5,333.4 1992.1,338.9 1991.6,341.7 1988.6,342.9 1986.3,341.3 1982.1,337.6 1974.4,326.4 1970.6,318.4 1975.9,316.2 1966.6,293.4"/>
<polygon points="1844.9,1382.1 1859.0,1359.6 1854.2,1356.6 1859.3,1349.3 1868.9,1339.7 1873.6,1336.7 1876.1,1335.5 1878.9,1337.3 1878.9,1340.1 1878.3,1345.6 1873.7,1358.4 1869.4,1366.2 1864.6,1363.1 1850.5,1385.5"/>
<polygon points="1941.7,1430.5 1939.9,1419.5 1934.2,1420.5 1933.2,1411.7 1933.9,1398.1 1935.5,1392.7 1936.6,1390.2 1939.8,1389.6 1941.7,1391.7 1944.9,1396.3 1950.0,1408.9 1951.9,1417.5 1946.3,1418.5 1948.1,1429.5"/>
<polygon points="2059.4,1339.0 2070.0,1319.0 2064.9,1316.3 2069.4,1308.7 2078.2,1298.3 2082.7,1295.0 2085.2,1293.7 2088.0,1295.1 2088.3,1298.0 2088.1,1303.5 2084.5,1316.7 2080.8,1324.7 2075.7,1322.0 2065.2,1342.0"/>
<polygon points="2134.6,1331.8 2124.3,1314.4 2119.3,1317.4 2115.2,1309.5 2111.0,1296.6 2110.5,1291.0 2110.6,1288.2 2113.4,1286.6 2115.9,1287.8 2120.6,1290.9 2129.9,1300.8 2134.8,1308.2 2129.9,1311.1 2140.2,1328.4"/>
<polygon points="2175.9,1232.1 2168.4,1213.3 2163.1,1215.4 2160.2,1207.0 2158.0,1193.6 2158.4,1188.1 2159.0,1185.3 2162.0,1184.1 2164.3,1185.7 2168.4,1189.5 2176.1,1200.7 2179.8,1208.8 2174.4,1210.9 2181.9,1229.7"/>
<polygon points="2224.7,1306.4 2233.4,1293.8 2228.7,1290.5 2234.0,1283.5 2244.0,1274.2 2248.9,1271.5 2251.5,1270.4 2254.1,1272.2 2254.1,1275.0 2253.2,1280.5 2248.1,1293.2 2243.5,1300.7 2238.8,1297.4 2230.1,1310.0"/>
<polygon points="2290.0,1389.5 2288.8,1381.7 2283.1,1382.6 2282.2,1373.8 2283.0,1360.3 2284.7,1354.9 2285.8,1352.3 2289.0,1351.9 2290.9,1353.9 2294.1,1358.5 2299.1,1371.2 2300.9,1379.8 2295.2,1380.7 2296.4,1388.5"/>
</g>
<g fill="none" stroke="#000" stroke-width="6">
<rect x="162.4" y="44.3" width="2240.6" height="1475.3"/>
</g>
<g stroke="#000" stroke-width="4.5">
<line x1="2264.0" y1="1519.6" x2="2264.0" y2="1500.5"/>
<line x1="1983.7" y1="1519.6" x2="1983.7" y2="1500.5"/>
<line x1="1703.4" y1="1519.6" x2="1703.4" y2="1500.5"/>
<line x1="1423.1" y1="1519.6" x2="1423.1" y2="1500.5"/>
<line x1="1142.9" y1="1519.6" x2="1142.9" y2="1500.5"/>
<line x1="862.6" y1="1519.6" x2="862.6" y2="1500.5"/>
<line x1="582.3" y1="1519.6" x2="582.3" y2="1500.5"/>
<line x1="302.0" y1="1519.6" x2="302.0" y2="1500.5"/>
<line x1="2123.9" y1="1519.6" x2="2123.9" y2="1508.5"/>
<line x1="1843.6" y1="1519.6" x2="1843.6" y2="1508.5"/>
<line x1="1563.3" y1="1519.6" x2="1563.3" y2="1508.5"/>
<line x1="1283.0" y1="1519.6" x2="1283.0" y2="1508.5"/>
<line x1="1002.7" y1="1519.6" x2="1002.7" y2="1508.5"/>
<line x1="722.4" y1="1519.6" x2="722.4" y2="1508.5"/>
<line x1="442.1" y1="1519.6" x2="442.1" y2="1508.5"/>
</g>
<g font-family="'Liberation Sans', sans-serif" font-size="70" text-anchor="middle" fill="#000">
<text transform="translate(2264.0,1592.5) scale(1,1.075)" x="0" y="0">500</text>
<text transform="translate(1983.7,1592.5) scale(1,1.075)" x="0" y="0">1000</text>
<text transform="translate(1703.4,1592.5) scale(1,1.075)" x="0" y="0">1500</text>
<text transform="translate(1423.1,1592.5) scale(1,1.075)" x="0" y="0">2000</text>
<text transform="translate(1142.9,1592.5) scale(1,1.075)" x="0" y="0">2500</text>
<text transform="translate(862.6,1592.5) scale(1,1.075)" x="0" y="0">3000</text>
<text transform="translate(582.3,1592.5) scale(1,1.075)" x="0" y="0">3500</text>
<text transform="translate(302.0,1592.5) scale(1,1.075)" x="0" y="0">4000</text>
</g>
<g font-family="'Liberation Serif', serif" font-size="51" text-anchor="middle" fill="#000">
<text x="609.5" y="164.4">3450</text>
<text x="1163.9" y="144.6">2361</text>
<text x="1285.8" y="145.3">2338</text>
<text x="1634.3" y="334.4">1171</text>
<text x="1970.0" y="275.4">1010</text>
<text x="1725.9" y="434.5">1454</text>
<text x="1977.8" y="512.1">970</text>
<text x="2044.3" y="465.3">887</text>
<text x="2141.7" y="398.7">714</text>
<text x="2225.0" y="385.1">589</text>
<text x="1830.5" y="1434.0">1171</text>
<text x="1945.5" y="1488.1">1083</text>
<text x="2050.4" y="1382.4">796</text>
<text x="2142.0" y="1381.3">778</text>
<text x="2176.6" y="1272.8">692</text>
<text x="2228.6" y="1355.9">510</text>
<text x="2292.7" y="1430.9">460</text>
</g>
<g font-family="'Liberation Serif', serif" font-size="70" fill="#000">
<text x="194.6" y="215.1">(e)</text>
<text x="194.6" y="431.9">(d)</text>
<text x="194.6" y="645.9">(c)</text>
<text x="194.6" y="871.2">(b)</text>
<text x="194.6" y="1098.9">(a)</text>
</g>
<g font-family="'Liberation Serif', serif" font-size="96" fill="#000">
<text transform="translate(1285.5,1735.7) scale(0.985,1)" x="0" y="0" text-anchor="middle">Wave number (cm<tspan font-size="54" dy="-45">-1</tspan><tspan dy="45">)</tspan></text>
<text transform="translate(104.6,781.2) rotate(-90) scale(0.987,1)" text-anchor="middle">Transmittance</text>
</g>
</svg>
</body></html>
